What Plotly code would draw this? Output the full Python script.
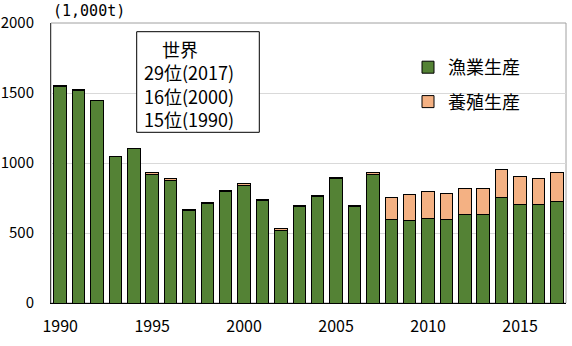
import plotly.graph_objects as go

years = list(range(1990, 2018))
fishing = [1544, 1516, 1447, 1044, 1102, 921, 875, 663, 708, 797,
           840, 733, 521, 690, 759, 888, 690, 920, 593, 586,
           607, 593, 629, 629, 755, 702, 702, 724]
aquaculture = [8, 8, 3, 6, 5, 10, 15, 6, 10, 10,
               15, 8, 8, 10, 12, 10, 10, 15, 162, 188,
               188, 190, 188, 192, 200, 203, 184, 209]
xtick_vals = [1990, 1995, 2000, 2005, 2010, 2015]
ytick_vals = [0, 500, 1000, 1500, 2000]
box_title = "世界"
box_lines = ["29位(2017)", "16位(2000)", "15位(1990)"]
unit_label = "(1,000t)"

FONT = "Noto Sans CJK JP"
L, R, T, B = 51, 6, 23, 43
PW = 572 - L - R
PH = 346 - T - B


def px(x):
    return (x - L) / PW


def py(y):
    return (346 - B - y) / PH


fig = go.Figure()
fig.add_trace(go.Bar(x=years, y=fishing, name="漁業生産", legendgroup="a",
                     marker=dict(color="#548235", line=dict(color="black", width=1))))
fig.add_trace(go.Bar(x=years, y=aquaculture, name="養殖生産", legendgroup="b",
                     marker=dict(color="#F4B183", line=dict(color="black", width=1))))

fig.update_layout(
    width=572, height=346,
    margin=dict(l=L, r=R, t=T, b=B),
    barmode="stack", bargap=0.32,
    plot_bgcolor="white", paper_bgcolor="white",
    font=dict(family=FONT, size=16, color="black"),
    legend=dict(x=px(408), y=py(49), xanchor="left", yanchor="top",
                traceorder="grouped", tracegroupgap=8,
                bgcolor="rgba(0,0,0,0)", font=dict(size=18)),
    xaxis=dict(range=[1989.5, 2017.5], tickvals=xtick_vals, showgrid=False,
               showline=True, linecolor="black", linewidth=1, automargin=False,
               ticks="", ticklabelstandoff=9, zeroline=False),
    yaxis=dict(range=[0, 2000], tickvals=ytick_vals, showgrid=True,
               gridcolor="#d9d9d9", gridwidth=1, automargin=False,
               showline=True, linecolor="#404040", linewidth=1,
               ticks="", ticklabelstandoff=13, zeroline=False,
               tickfont=dict(size=15)),
    shapes=[
        dict(type="rect", xref="paper", yref="paper", x0=0, x1=1, y0=0, y1=1,
             line=dict(color="#a0a0a0", width=1), layer="below"),
        dict(type="rect", xref="paper", yref="paper", x0=px(136.7), x1=px(259.3),
             y0=py(132.3), y1=py(31.7), line=dict(color="black", width=1),
             fillcolor="white", layer="above"),
    ],
)

box_text = "<br>".join(["\u3000" + box_title] + box_lines)
annotations = [
    dict(text=box_text, xref="paper", yref="paper", x=px(142), y=py(84),
         xanchor="left", yanchor="middle", align="left", showarrow=False,
         font=dict(size=18)),
    dict(text=unit_label, xref="paper", yref="paper", x=px(89), y=py(11),
         xanchor="center", yanchor="middle", showarrow=False,
         font=dict(size=15, family="DejaVu Sans Mono")),
]
fig.update_layout(annotations=annotations)

fig.write_html("out.html")
